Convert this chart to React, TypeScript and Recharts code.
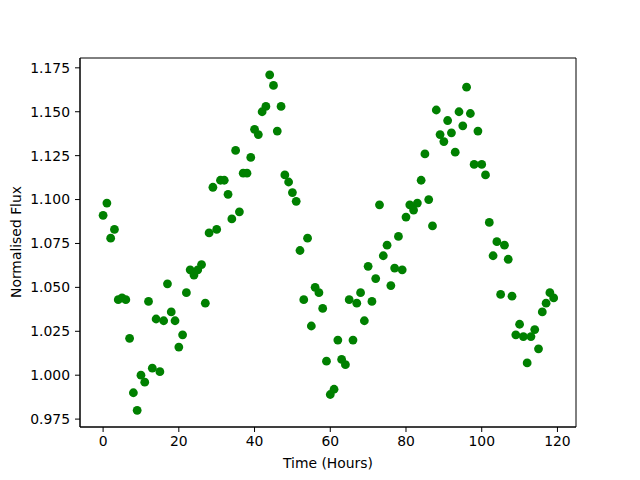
import React from 'react';
import { ScatterChart, Scatter, XAxis, YAxis, ReferenceArea, Label } from 'recharts';

const timeHours = [
  0, 1, 2, 3, 4, 5, 6, 7, 8, 9, 10, 11, 12, 13, 14, 15, 16, 17, 18, 19,
  20, 21, 22, 23, 24, 25, 26, 27, 28, 29, 30, 31, 32, 33, 34, 35, 36, 37, 38, 39,
  40, 41, 42, 43, 44, 45, 46, 47, 48, 49, 50, 51, 52, 53, 54, 55, 56, 57, 58, 59,
  60, 61, 62, 63, 64, 65, 66, 67, 68, 69, 70, 71, 72, 73, 74, 75, 76, 77, 78, 79,
  80, 81, 82, 83, 84, 85, 86, 87, 88, 89, 90, 91, 92, 93, 94, 95, 96, 97, 98, 99,
  100, 101, 102, 103, 104, 105, 106, 107, 108, 109, 110, 111, 112, 113, 114, 115, 116, 117, 118, 119,
];

const normalisedFlux = [
  1.091, 1.098, 1.078, 1.083, 1.043, 1.044, 1.043, 1.021, 0.990, 0.980,
  1.000, 0.996, 1.042, 1.004, 1.032, 1.002, 1.031, 1.052, 1.036, 1.031,
  1.016, 1.023, 1.047, 1.060, 1.057, 1.060, 1.063, 1.041, 1.081, 1.107,
  1.083, 1.111, 1.111, 1.103, 1.089, 1.128, 1.093, 1.115, 1.115, 1.124,
  1.140, 1.137, 1.150, 1.153, 1.171, 1.165, 1.139, 1.153, 1.114, 1.110,
  1.104, 1.099, 1.071, 1.043, 1.078, 1.028, 1.050, 1.047, 1.038, 1.008,
  0.989, 0.992, 1.020, 1.009, 1.006, 1.043, 1.020, 1.041, 1.047, 1.031,
  1.062, 1.042, 1.055, 1.097, 1.068, 1.074, 1.051, 1.061, 1.079, 1.060,
  1.090, 1.097, 1.094, 1.098, 1.111, 1.126, 1.100, 1.085, 1.151, 1.137,
  1.133, 1.145, 1.138, 1.127, 1.150, 1.142, 1.164, 1.149, 1.120, 1.139,
  1.120, 1.114, 1.087, 1.068, 1.076, 1.046, 1.074, 1.066, 1.045, 1.023,
  1.029, 1.022, 1.007, 1.022, 1.026, 1.015, 1.036, 1.041, 1.047, 1.044,
];

const xTicks = [0, 20, 40, 60, 80, 100, 120];
const yTicks = [0.975, 1.0, 1.025, 1.05, 1.075, 1.1, 1.125, 1.15, 1.175];

const xLabelText = 'Time (Hours)';
const yLabelText = 'Normalised Flux';

const data = timeHours.map((t, i) => ({ time: t, flux: normalisedFlux[i] }));

const FONT = '"DejaVu Sans", sans-serif';
const X_DOMAIN: [number, number] = [-6.1, 124.9];
const Y_DOMAIN: [number, number] = [0.9705, 1.1806];

const Dot = (props: any) => (
  <circle cx={props.cx} cy={props.cy} r={4.4} fill="#008000" />
);

export default function App() {
  const tickStyle = { fill: '#000', fontSize: 13.9, fontFamily: FONT };
  return (
    <div style={{ position: 'absolute', left: 0, top: 0, width: 640, height: 480, background: '#fff' }}>
      <ScatterChart
        width={640}
        height={480}
        margin={{ top: 58, right: 64, bottom: 23, left: 10 }}
      >
        <XAxis
          type="number"
          dataKey="time"
          domain={X_DOMAIN}
          allowDataOverflow
          ticks={xTicks}
          height={30}
          tick={tickStyle}
          tickSize={5}
          tickMargin={4}
          axisLine={{ stroke: '#000' }}
          tickLine={{ stroke: '#000' }}
        >
          <Label
            content={() => (
              <text x={328} y={468} textAnchor="middle" fontSize={13.9} fontFamily={FONT} fill="#000">
                {xLabelText}
              </text>
            )}
          />
        </XAxis>
        <YAxis
          type="number"
          dataKey="flux"
          domain={Y_DOMAIN}
          allowDataOverflow
          ticks={yTicks}
          width={70}
          tick={tickStyle}
          tickSize={5}
          tickMargin={5}
          tickFormatter={(v: number) => v.toFixed(3)}
          axisLine={{ stroke: '#000' }}
          tickLine={{ stroke: '#000' }}
        >
          <Label
            content={() => (
              <text
                x={21}
                y={242}
                transform="rotate(-90, 21, 242)"
                textAnchor="middle"
                fontSize={13.9}
                fontFamily={FONT}
                fill="#000"
              >
                {yLabelText}
              </text>
            )}
          />
        </YAxis>
        <ReferenceArea
          x1={X_DOMAIN[0]}
          x2={X_DOMAIN[1]}
          y1={Y_DOMAIN[0]}
          y2={Y_DOMAIN[1]}
          fill="none"
          stroke="#000"
          strokeWidth={1}
          ifOverflow="visible"
        />
        <Scatter data={data} shape={Dot} isAnimationActive={false} />
      </ScatterChart>
    </div>
  );
}
